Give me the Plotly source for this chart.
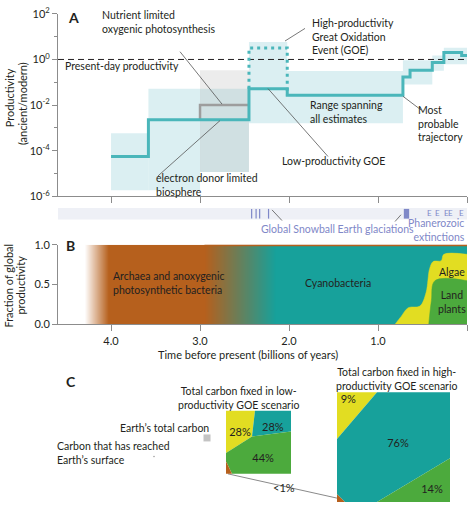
import plotly.graph_objects as go

W, H = 474, 508
INK = "#231f20"
AXIS = "#8c8c8c"
TEAL_LINE = "#4ab6ba"
BAND = "rgba(160,214,220,0.38)"
GRAY_BAND = "rgba(175,175,175,0.24)"
ORANGE = "#b6601d"
CYANO = "#17a19b"
YELLOW = "#e2dd22"
GREEN = "#4caa3d"
GLAC = "#7f88c8"
FONT = "Lato"
FS = 10.5

# --- A: productivity relative to modern, time in Ga ---
traj_t = [4.0, 3.58, 2.45, 2.02, 0.72, 0.64, 0.39, 0.26, 0.06, 0.0]
traj_p = [5.5e-5, 2.3e-3, 0.052, 0.027, 0.17, 0.34, 0.74, 2.0, 1.5, 1.5]

goe_high_t = [2.45, 2.45, 2.02, 2.02]
goe_high_p = [0.052, 3.2, 3.2, 0.027]

nutrient_t = [3.0, 3.0, 2.45]
nutrient_p = [2.3e-3, 0.01, 0.01]

# range spanning all estimates (log10 bounds)
band_t0 = [4.0, 3.58, 3.0, 2.45, 2.02, 0.72, 0.39, 0.26]
band_t1 = [3.58, 3.0, 2.45, 2.02, 0.72, 0.39, 0.26, 0.0]
band_lo = [-5.74, -5.74, -4.94, -2.8, -2.8, -1.1, -0.5, -0.21]
band_hi = [-3.23, -1.28, -1.28, 0.77, -0.51, -0.04, 0.17, 0.51]

nutrient_band_t = [3.0, 2.45]
nutrient_band_lim = [-4.94, -0.47]

snowball_t = [2.42, 2.37, 2.33, 2.23]
cryogenian_t = [0.71, 0.65]
extinction_t = [0.42, 0.33, 0.23, 0.18, 0.06]

# --- B: fraction of global productivity ---
# colour stops: 0 = none, 1 = archaea/anoxygenic, 2 = cyanobacteria
group_t = [4.3, 4.03, 2.95, 2.15, 0.0]
group_z = [0, 1, 1, 2, 2]
algae_t = [0.81, 0.74, 0.66, 0.53, 0.46, 0.42, 0.38, 0.29, 0.26, 0.0]
algae_f = [0.0, 0.1, 0.21, 0.23, 0.40, 0.70, 0.79, 0.80, 0.88, 0.88]
plants_t = [0.43, 0.40, 0.36, 0.0]
plants_f = [0.0, 0.3, 0.55, 0.55]

# --- C: share of carbon fixed ---
low_pct = ["28%", "28%", "44%"]
high_pct = ["9%", "76%", "14%"]


def px(x):
    return x / W


def py(y):
    return 1 - y / H


fig = go.Figure()

# bands
for t0, t1, lo, hi in zip(band_t0, band_t1, band_lo, band_hi):
    fig.add_trace(go.Scatter(
        x=[t0, t1, t1, t0, t0], y=[10**lo, 10**lo, 10**hi, 10**hi, 10**lo],
        mode="lines", fill="toself", fillcolor=BAND, line=dict(width=0),
        hoverinfo="skip", showlegend=False))
t0, t1 = nutrient_band_t
lo, hi = nutrient_band_lim
fig.add_trace(go.Scatter(
    x=[t0, t1, t1, t0, t0], y=[10**lo, 10**lo, 10**hi, 10**hi, 10**lo],
    mode="lines", fill="toself", fillcolor=GRAY_BAND, line=dict(width=0),
    hoverinfo="skip", showlegend=False))

# present-day productivity
fig.add_trace(go.Scatter(x=[4.596, 0], y=[1, 1], mode="lines",
                         line=dict(color=INK, width=1, dash="6px,4px"),
                         hoverinfo="skip", showlegend=False))
fig.add_trace(go.Scatter(x=nutrient_t, y=nutrient_p, mode="lines",
                         line=dict(color="#9d9d9d", width=2.5),
                         hoverinfo="skip", showlegend=False))
fig.add_trace(go.Scatter(x=goe_high_t, y=goe_high_p, mode="lines",
                         line=dict(color=TEAL_LINE, width=3, dash="3px,4px"),
                         hoverinfo="skip", showlegend=False))
fig.add_trace(go.Scatter(x=traj_t, y=traj_p, mode="lines",
                         line=dict(color=TEAL_LINE, width=3, shape="hv"),
                         hoverinfo="skip", showlegend=False))

# --- B ---
fig.add_trace(go.Heatmap(
    x=group_t, y=[0, 1], z=[group_z, group_z], zmin=0, zmax=2,
    colorscale=[[0, "#ffffff"], [0.5, ORANGE], [1, CYANO]],
    zsmooth="best", showscale=False, hoverinfo="skip",
    xaxis="x2", yaxis="y2"))
fig.add_trace(go.Scatter(x=[group_t[2], 0], y=[1, 1], mode="lines",
                         line=dict(color=ORANGE, width=3),
                         xaxis="x2", yaxis="y2", hoverinfo="skip", showlegend=False))
fig.add_trace(go.Scatter(x=algae_t, y=algae_f, mode="lines", fill="tozeroy",
                         fillcolor=YELLOW, line=dict(color=YELLOW, width=0.5, shape="spline"),
                         xaxis="x2", yaxis="y2", hoverinfo="skip", showlegend=False))
fig.add_trace(go.Scatter(x=plants_t, y=plants_f, mode="lines", fill="tozeroy",
                         fillcolor=GREEN, line=dict(color=GREEN, width=0.5, shape="spline"),
                         xaxis="x2", yaxis="y2", hoverinfo="skip", showlegend=False))

# --- C: carbon boxes (pixel space, polygons relative to each box) ---
low_box = (226, 414, 65)
high_box = (337, 395, 113)
low_polys = [
    (YELLOW, [(0, 0), (0.446, 0), (0.4, 0.406), (0, 0.67)]),
    (CYANO, [(0.446, 0), (1, 0), (1, 0.33), (0.4, 0.406)]),
    (GREEN, [(0.4, 0.406), (1, 0.33), (1, 1), (0.092, 1), (0, 0.8), (0, 0.67)]),
    (ORANGE, [(0, 0.8), (0.092, 1), (0, 1)]),
]
high_polys = [
    (YELLOW, [(0, 0), (0.354, 0), (0, 0.425)]),
    (CYANO, [(0.354, 0), (1, 0), (1, 0.6), (0.354, 1), (0.07, 1), (0, 0.93), (0, 0.425)]),
    (GREEN, [(1, 0.6), (1, 1), (0.354, 1)]),
    (ORANGE, [(0, 0.93), (0.07, 1), (0, 1)]),
]
low_lab_pos = [(0.215, 0.36), (0.72, 0.28), (0.57, 0.77)]
high_lab_pos = [(0.1, 0.07), (0.54, 0.47), (0.84, 0.89)]

fig.add_trace(go.Scatter(x=[228, 337], y=[479, 504], mode="lines",
                         line=dict(color="#8a8a8a", width=1),
                         xaxis="x3", yaxis="y3", hoverinfo="skip", showlegend=False))
for (bx, by, s), polys, labels, pos in [(low_box, low_polys, low_pct, low_lab_pos),
                                        (high_box, high_polys, high_pct, high_lab_pos)]:
    for col, pts in polys:
        xs = [bx + s * p[0] for p in pts] + [bx + s * pts[0][0]]
        ys = [by + s * p[1] for p in pts] + [by + s * pts[0][1]]
        fig.add_trace(go.Scatter(x=xs, y=ys, mode="lines", fill="toself", fillcolor=col,
                                 line=dict(width=0), xaxis="x3", yaxis="y3",
                                 hoverinfo="skip", showlegend=False))
    fig.add_trace(go.Scatter(x=[bx + s * p[0] for p in pos], y=[by + s * p[1] for p in pos],
                             mode="text", text=labels,
                             textfont=dict(family=FONT, size=11, color=INK),
                             xaxis="x3", yaxis="y3", hoverinfo="skip", showlegend=False))
# Earth's total carbon / surface carbon markers
fig.add_trace(go.Scatter(x=[207, 154], y=[442, 461], mode="markers",
                         marker=dict(symbol="square", size=[8, 2], color=["#aaaaaa", INK]),
                         xaxis="x3", yaxis="y3", hoverinfo="skip", showlegend=False))

# snowball / extinction strip
shapes = [
    dict(type="rect", xref="x", yref="paper", x0=4.596, x1=0, y0=py(217), y1=py(205),
         fillcolor="#eef0f6", line_width=0, layer="below"),
    dict(type="rect", xref="x", yref="paper", x0=cryogenian_t[0], x1=cryogenian_t[1],
         y0=py(216), y1=py(206), fillcolor=GLAC, line_width=0),
]
for t in snowball_t:
    shapes.append(dict(type="line", xref="x", yref="paper", x0=t, x1=t,
                       y0=py(216), y1=py(206), line=dict(color=GLAC, width=1.2)))

# leader lines (pixel positions)
leaders = [((180, 44), (222, 98)), ((158, 172), (220, 115)), ((305, 20), (285, 33)),
           ((268, 82), (328, 152)), ((403, 90), (421, 104)),
           ((272, 207), (282, 218)), ((401, 212), (395, 219))]
for (x0, y0), (x1, y1) in leaders:
    shapes.append(dict(type="line", xref="paper", yref="paper",
                       x0=px(x0), y0=py(y0), x1=px(x1), y1=py(y1),
                       line=dict(color="#555555", width=0.8)))

annotations = []


def note(text, x, y, xanchor="left", size=FS, color=INK, bold=False, angle=0):
    if bold:
        text = "<b>" + text + "</b>"
    annotations.append(dict(text=text, x=px(x), y=py(y), xref="paper", yref="paper",
                            xanchor=xanchor, yanchor="middle", showarrow=False,
                            textangle=angle, align=xanchor if xanchor != "center" else "center",
                            font=dict(family=FONT, size=size, color=color)))


note("A", 66, 9, size=14, bold=True)
note("B", 64, 244, size=14, bold=True)
note("C", 64, 384, size=14, bold=True)

note("Nutrient limited<br>oxygenic photosynthesis", 100, 13)
note("Present-day productivity", 63, 59)
note("electron donor limited<br>biosphere", 154, 181)
note("High-productivity<br>Great Oxidation<br>Event (GOE)", 310, 28)
note("Range spanning<br>all estimates", 308, 106)
note("Low-productivity GOE", 280, 157)
note("Most<br>probable<br>trajectory", 416, 118)

note("Global Snowball Earth glaciations", 337, 227, xanchor="center", color=GLAC)
note("Phanerozoic<br>extinctions", 467, 228, xanchor="right", color=GLAC)
for t in extinction_t:
    annotations.append(dict(text="E", x=t, y=py(210), xref="x", yref="paper",
                            xanchor="center", yanchor="middle", showarrow=False,
                            font=dict(family=FONT, size=8, color=GLAC)))

note("Archaea and anoxygenic<br>photosynthetic bacteria", 111, 282)
note("Cyanobacteria", 338, 282, xanchor="center")
note("Algae", 452, 271, xanchor="center")
note("Land<br>plants", 452, 302, xanchor="center")
note("Time before present (billions of years)", 248, 356, xanchor="center", size=11)

note("Productivity", 9, 92, xanchor="center", size=11, angle=-90)
note("(ancient/modern)", 22, 98, xanchor="center", size=11, angle=-90)
note("Fraction of global", 9, 285, xanchor="center", size=11, angle=-90)
note("productivity", 21, 285, xanchor="center", size=11, angle=-90)

note("Total carbon fixed in low-<br>productivity GOE scenario", 238, 401, xanchor="center")
note("Total carbon fixed in high-<br>productivity GOE scenario", 396, 381, xanchor="center")
note("Earth’s total carbon", 211, 432, xanchor="right")
note("Carbon that has reached<br>Earth’s surface", 55, 458)
note("<1%", 284, 493, xanchor="center", size=11)

x_dom = [px(58), px(467)]
common_x = dict(domain=x_dom, range=[4.596, 0], showgrid=False, zeroline=False,
                showline=True, linecolor=AXIS, linewidth=1, ticks="outside",
                ticklen=6, tickcolor=AXIS, tickvals=[4, 3, 2, 1, 0], fixedrange=True)

fig.update_layout(
    width=W, height=H, margin=dict(l=0, r=0, t=0, b=0),
    paper_bgcolor="white", plot_bgcolor="rgba(0,0,0,0)",
    font=dict(family=FONT, size=11, color=INK),
    showlegend=False,
    xaxis=dict(common_x, anchor="y", showticklabels=False),
    yaxis=dict(domain=[py(193), py(5)], type="log", range=[-6, 2],
               tickvals=[1e-6, 1e-4, 1e-2, 1, 1e2],
               ticktext=["10<sup>-6</sup>", "10<sup>-4</sup>", "10<sup>-2</sup>",
                         "10<sup>0</sup>", "10<sup>2</sup>"],
               ticks="outside", ticklen=5, tickcolor=AXIS, showline=True,
               linecolor=AXIS, showgrid=False, zeroline=False, anchor="x",
               minor=dict(tickvals=[1e-5, 1e-3, 1e-1, 10], ticklen=3, tickcolor=AXIS,
                          ticks="outside"),
               tickfont=dict(size=11), fixedrange=True),
    xaxis2=dict(common_x, anchor="y2",
                ticktext=["4.0", "3.0", "2.0", "1.0", "0.0"], tickfont=dict(size=11)),
    yaxis2=dict(domain=[py(325), py(243)], range=[0, 1], anchor="x2",
                tickvals=[0, 0.5, 1], ticktext=["0.0", "0.5", "1.0"],
                ticks="outside", ticklen=5, tickcolor=AXIS, showline=True,
                linecolor=AXIS, showgrid=False, zeroline=False,
                tickfont=dict(size=11), fixedrange=True),
    xaxis3=dict(domain=[0, 1], range=[0, W], visible=False, anchor="y3", fixedrange=True),
    yaxis3=dict(domain=[0, py(360)], range=[H, 360], visible=False, anchor="x3",
                fixedrange=True),
    shapes=shapes,
    annotations=annotations,
)

fig.write_html("out.html", config={"displayModeBar": False},
               post_script="document.body.style.margin='0';"
                           "document.body.style.overflow='hidden';")
